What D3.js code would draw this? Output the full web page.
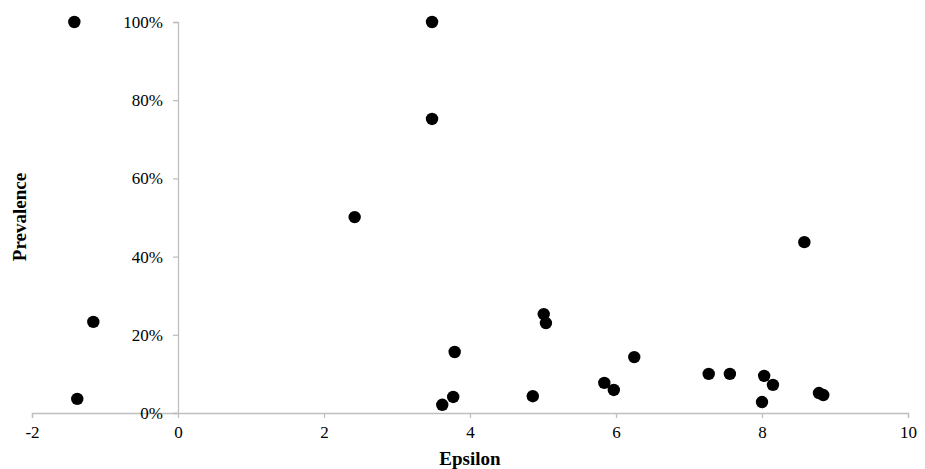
<!DOCTYPE html>
<html><head><meta charset="utf-8">
<script src="https://cdn.jsdelivr.net/npm/d3@7"></script>
<style>body{margin:0;background:#fff;} text{font-family:"Liberation Serif","Times New Roman",serif;}</style>
</head><body><svg id="c" width="925" height="469"></svg>
<script>
const epsilon = [-1.42,-1.16,-1.38,3.48,3.48,2.42,3.79,3.77,3.62,4.86,5.01,5.04,5.84,5.97,6.25,7.27,7.56,8.03,8.15,8.0,8.78,8.84,8.58];
const prevalence = [1.00,0.233,0.036,1.00,0.752,0.501,0.156,0.041,0.021,0.043,0.253,0.230,0.077,0.059,0.143,0.100,0.100,0.095,0.072,0.028,0.051,0.046,0.437];
const xTicks = [-2,0,2,4,6,8,10];
const yTicks = [0,0.2,0.4,0.6,0.8,1.0];

const svg = d3.select("#c");
const x = d3.scaleLinear().domain([-2,10]).range([32,908]);
const y = d3.scaleLinear().domain([0,1]).range([413,22]);
const axisColor = "#bfbfbf";

// x axis
const gx = svg.append("g").attr("transform",`translate(0,${y(0)})`)
  .call(d3.axisBottom(x).tickValues(xTicks).tickSize(5).tickPadding(8).tickFormat(d => String(d)));
gx.select(".domain").attr("stroke",axisColor).attr("stroke-width",1.3);
gx.selectAll(".tick line").attr("stroke",axisColor).attr("stroke-width",1.3);
gx.selectAll(".tick text").attr("font-size",17).attr("fill","#000").attr("font-family","Liberation Serif");

// y axis at x=0
const gy = svg.append("g").attr("transform",`translate(${x(0)},0)`)
  .call(d3.axisLeft(y).tickValues(yTicks).tickSize(5).tickPadding(10).tickFormat(d3.format(".0%")));
gy.select(".domain").attr("stroke",axisColor).attr("stroke-width",1.3);
gy.selectAll(".tick line").attr("stroke",axisColor).attr("stroke-width",1.3);
gy.selectAll(".tick text").attr("font-size",17).attr("fill","#000").attr("font-family","Liberation Serif");

// points
svg.append("g").selectAll("circle").data(epsilon.map((e,i)=>[e,prevalence[i]]))
  .join("circle").attr("cx",d=>x(d[0])).attr("cy",d=>y(d[1])).attr("r",6.2).attr("fill","#000");

// titles
svg.append("text").attr("x",470).attr("y",465).attr("text-anchor","middle")
  .attr("font-size",19).attr("font-weight","bold").text("Epsilon");
svg.append("text").attr("transform","translate(26,217) rotate(-90)").attr("text-anchor","middle")
  .attr("font-size",19).attr("font-weight","bold").text("Prevalence");
</script></body></html>
